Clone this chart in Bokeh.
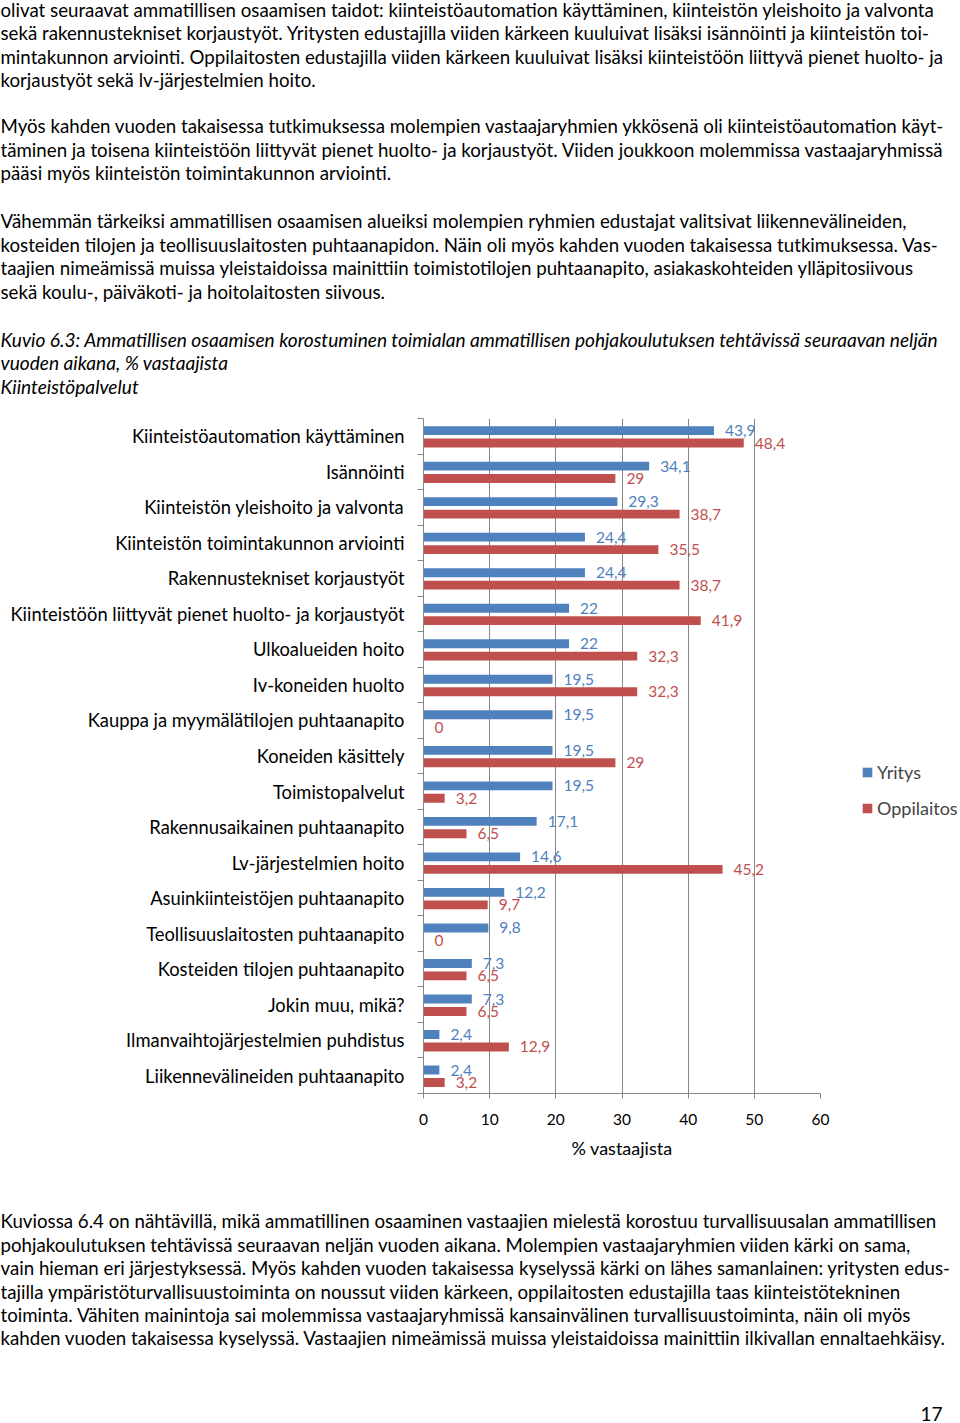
from bokeh.plotting import figure
from bokeh.layouts import column, row
from bokeh.models import Range1d, FixedTicker, Legend, LegendItem, ColumnDataSource
from bokeh.core.properties import value
from bokeh.embed import file_html
from bokeh.resources import INLINE

# ---------------- data ----------------
categories = [
    "Kiinteistöautomation käyttäminen",
    "Isännöinti",
    "Kiinteistön yleishoito ja valvonta",
    "Kiinteistön toimintakunnon arviointi",
    "Rakennustekniset korjaustyöt",
    "Kiinteistöön liittyvät pienet huolto- ja korjaustyöt",
    "Ulkoalueiden hoito",
    "Iv-koneiden huolto",
    "Kauppa ja myymälätilojen puhtaanapito",
    "Koneiden käsittely",
    "Toimistopalvelut",
    "Rakennusaikainen puhtaanapito",
    "Lv-järjestelmien hoito",
    "Asuinkiinteistöjen puhtaanapito",
    "Teollisuuslaitosten puhtaanapito",
    "Kosteiden tilojen puhtaanapito",
    "Jokin muu, mikä?",
    "Ilmanvaihtojärjestelmien puhdistus",
    "Liikennevälineiden puhtaanapito",
]
yritys = [43.9, 34.1, 29.3, 24.4, 24.4, 22, 22, 19.5, 19.5, 19.5, 19.5, 17.1, 14.6, 12.2, 9.8, 7.3, 7.3, 2.4, 2.4]
oppilaitos = [48.4, 29, 38.7, 35.5, 38.7, 41.9, 32.3, 32.3, 0, 29, 3.2, 6.5, 45.2, 9.7, 0, 6.5, 6.5, 12.9, 3.2]
series_names = ["Yritys", "Oppilaitos"]
x_ticks = [0, 10, 20, 30, 40, 50, 60]
x_axis_title = "% vastaajista"

para1 = [
    "olivat seuraavat ammatillisen osaamisen taidot: kiinteistöautomation käyttäminen, kiinteistön yleishoito ja valvonta",
    "sekä rakennustekniset korjaustyöt.  Yritysten edustajilla viiden kärkeen kuuluivat lisäksi isännöinti ja kiinteistön toi-",
    "mintakunnon arviointi. Oppilaitosten edustajilla viiden kärkeen kuuluivat lisäksi kiinteistöön liittyvä pienet huolto- ja",
    "korjaustyöt sekä lv-järjestelmien hoito.",
]
para2 = [
    "Myös kahden vuoden takaisessa tutkimuksessa molempien vastaajaryhmien ykkösenä oli kiinteistöautomation käyt-",
    "täminen ja toisena kiinteistöön liittyvät pienet huolto- ja korjaustyöt. Viiden joukkoon molemmissa vastaajaryhmissä",
    "pääsi myös kiinteistön toimintakunnon arviointi.",
]
para3 = [
    "Vähemmän tärkeiksi ammatillisen osaamisen alueiksi molempien ryhmien edustajat valitsivat liikennevälineiden,",
    "kosteiden tilojen ja teollisuuslaitosten puhtaanapidon. Näin oli myös kahden vuoden takaisessa tutkimuksessa. Vas-",
    "taajien nimeämissä muissa yleistaidoissa mainittiin toimistotilojen puhtaanapito, asiakaskohteiden ylläpitosiivous",
    "sekä koulu-, päiväkoti- ja hoitolaitosten siivous.",
]
caption = [
    "Kuvio 6.3: Ammatillisen osaamisen korostuminen toimialan ammatillisen pohjakoulutuksen tehtävissä seuraavan neljän",
    "vuoden aikana, % vastaajista",
    "Kiinteistöpalvelut",
]
para4 = [
    "Kuviossa 6.4 on nähtävillä, mikä ammatillinen osaaminen vastaajien mielestä korostuu turvallisuusalan ammatillisen",
    "pohjakoulutuksen tehtävissä seuraavan neljän vuoden aikana. Molempien vastaajaryhmien viiden kärki on sama,",
    "vain hieman eri järjestyksessä. Myös kahden vuoden takaisessa kyselyssä kärki on lähes samanlainen: yritysten edus-",
    "tajilla ympäristöturvallisuustoiminta on noussut viiden kärkeen, oppilaitosten edustajilla taas kiinteistötekninen",
    "toiminta. Vähiten mainintoja sai molemmissa vastaajaryhmissä kansainvälinen turvallisuustoiminta, näin oli myös",
    "kahden vuoden takaisessa kyselyssä. Vastaajien nimeämissä muissa yleistaidoissa mainittiin ilkivallan ennaltaehkäisy.",
]
page_number = "17"

# ---------------- style ----------------
BLUE = "#4F81BD"
RED = "#C0504D"
GRAY = "#868686"
W = 952
LEG_W = 120
BODY_FONT = "Lato"
BODY_SIZE = "18.7px"
CAPTION_SIZE = "19.1px"
CHART_FONT = "Lato"


def blank_fig(width, height, x_range, y_range):
    f = figure(width=width, height=height, x_range=x_range, y_range=y_range,
               toolbar_location=None, output_backend="svg", min_border=0,
               x_axis_location=None, y_axis_location=None, outline_line_color=None,
               frame_align=False)
    f.grid.visible = False
    return f


def text_fig(width, height):
    return blank_fig(width, height, Range1d(0, width), Range1d(height, 0))


def put_lines(f, lines, x, baselines, style="normal", size=BODY_SIZE):
    f.text(x=[x] * len(lines), y=baselines, text=lines, text_font=value(BODY_FONT),
           text_font_size=size, text_font_style=style, text_color="#000000",
           text_baseline="alphabetic", text_align="left")


# ---- top text block (page y 0..410) ----
top = text_fig(W, 410)
put_lines(top, para1, 0, [9.2, 32.7, 56.2, 79.7])
put_lines(top, para2, 0, [125.5, 149, 172.5])
put_lines(top, para3, 0, [220.5, 244, 267.5, 291])
put_lines(top, caption, 0, [338.5, 362, 385.5], style="italic", size=CAPTION_SIZE)

# ---- chart (page y 410..1190) ----
n = len(categories)
pos = list(range(n))
bounds = [i - 0.5 for i in range(n + 1)]


def fmt(v):
    return str(int(v)) if float(v).is_integer() else ("%.1f" % v).replace(".", ",")


src = ColumnDataSource(dict(
    yb=[i - 0.16 for i in pos], yo=[i + 0.19 for i in pos],
    yr=yritys, op=oppilaitos,
    lyr=[fmt(v) for v in yritys], lop=[fmt(v) for v in oppilaitos],
))

p = figure(frame_width=397, frame_height=675,
           x_range=Range1d(x_ticks[0], x_ticks[-1]), y_range=Range1d(n - 0.5, -0.5),
           toolbar_location=None, output_backend="svg",
           min_border_left=423, min_border_right=20, min_border_top=8, min_border_bottom=97,
           outline_line_color=None, frame_align=False)

rb = p.hbar(y="yb", left=0, right="yr", height=0.25, fill_color=BLUE, line_color=None, source=src)
rr = p.hbar(y="yo", left=0, right="op", height=0.25, fill_color=RED, line_color=None, source=src)

p.text(x="yr", y="yb", text="lyr", source=src, x_offset=11, text_baseline="middle",
       text_font=value(CHART_FONT), text_font_size="15.5px", text_color=BLUE)
p.text(x="op", y="yo", text="lop", source=src, x_offset=11, text_baseline="middle",
       text_font=value(CHART_FONT), text_font_size="15.5px", text_color=RED)

xt = FixedTicker(ticks=x_ticks)
p.xaxis.ticker = xt
p.xaxis.axis_line_color = GRAY
p.xaxis.major_tick_line_color = GRAY
p.xaxis.major_tick_out = 5
p.xaxis.major_tick_in = 0
p.xaxis.minor_tick_line_color = None
p.xaxis.major_label_standoff = 15
p.xaxis.major_label_text_font = CHART_FONT
p.xaxis.major_label_text_font_size = "15.5px"
p.xaxis.major_label_text_color = "#000000"
p.xaxis.axis_label = x_axis_title
p.xaxis.axis_label_text_font = CHART_FONT
p.xaxis.axis_label_text_font_size = "18px"
p.xaxis.axis_label_text_font_style = "normal"
p.xaxis.axis_label_text_color = "#000000"
p.xaxis.axis_label_standoff = 9

p.xgrid.ticker = xt
p.xgrid.grid_line_color = GRAY
p.xgrid.grid_line_width = 1
p.ygrid.visible = False

yt = FixedTicker(ticks=pos, minor_ticks=bounds)
p.yaxis.ticker = yt
p.yaxis.major_label_overrides = {i: c for i, c in zip(pos, categories)}
p.yaxis.axis_line_color = GRAY
p.yaxis.major_tick_line_color = None
p.yaxis.major_tick_out = 0
p.yaxis.major_tick_in = 0
p.yaxis.minor_tick_line_color = GRAY
p.yaxis.minor_tick_out = 6
p.yaxis.minor_tick_in = 0
p.yaxis.major_label_standoff = 13
p.yaxis.major_label_text_font = CHART_FONT
p.yaxis.major_label_text_font_size = "18.35px"
p.yaxis.major_label_text_color = "#000000"

# ---- legend panel to the right of the chart (page x 840..960) ----
# the same series, scrolled out of this panel's view, supply the legend swatches
leg = blank_fig(LEG_W, 780, Range1d(-2, -1), Range1d(n - 0.5, -0.5))
lb = leg.hbar(y="yb", left=0, right="yr", height=0.25, fill_color=BLUE, line_color=None, source=src)
lr = leg.hbar(y="yo", left=0, right="op", height=0.25, fill_color=RED, line_color=None, source=src)
legend = Legend(items=[LegendItem(label=series_names[0], renderers=[lb]),
                       LegendItem(label=series_names[1], renderers=[lr])],
                location=(21, 371), orientation="vertical",
                label_text_font=CHART_FONT, label_text_font_size="18px",
                glyph_width=12, glyph_height=12, label_standoff=4, spacing=14,
                padding=0, margin=0, border_line_color=None, background_fill_alpha=0)
leg.add_layout(legend)

# ---- bottom text block (page y 1190..1423) ----
bot = text_fig(W, 233)
put_lines(bot, para4, 0, [30.5, 54, 77.5, 101, 124.5, 147.5])
put_lines(bot, [page_number], 920, [223], size="19px")

layout = column(top, row(p, leg), bot)
open("out.html", "w").write(file_html(layout, INLINE))
